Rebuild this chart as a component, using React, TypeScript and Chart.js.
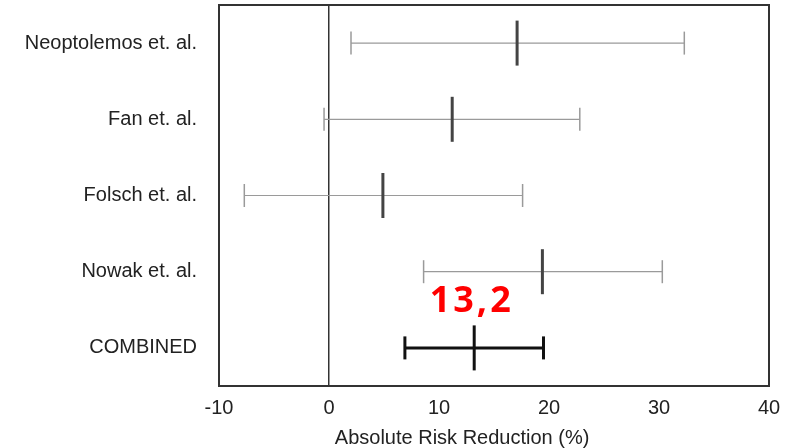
import React, { useEffect, useRef } from "react";
import { Chart, registerables } from "chart.js";

Chart.register(...registerables);

// ---- data ----
const studies = ["Neoptolemos et. al.", "Fan et. al.", "Folsch et. al.", "Nowak et. al.", "COMBINED"];
const lower = [2.0, -0.45, -7.7, 8.6, 6.9];
const estimate = [17.1, 11.2, 4.9, 19.4, 13.2];
const upper = [32.3, 22.8, 17.6, 30.3, 19.5];
const xMin = -10;
const xMax = 40;
const xStep = 10;
const xTitle = "Absolute Risk Reduction (%)";
const combinedLabel = "13,2";

const FONT = "'Liberation Sans', Arial, sans-serif";
const TEXT = "#222";

export default function App() {
  const ref = useRef<HTMLCanvasElement | null>(null);

  useEffect(() => {
    if (!ref.current) return;
    const last = studies.length - 1;

    const whiskers = studies.map((_, i) => {
      const combined = i === last;
      return {
        type: "scatter" as const,
        label: studies[i] + " CI",
        data: [
          { x: lower[i], y: i },
          { x: upper[i], y: i },
        ],
        showLine: true,
        borderColor: combined ? "#111" : "#9a9a9a",
        borderWidth: combined ? 3 : 1.2,
        pointStyle: "line" as const,
        pointRotation: 90,
        pointRadius: 11.5,
        pointHoverRadius: 11.5,
        pointBorderColor: combined ? "#111" : "#9a9a9a",
        pointBorderWidth: combined ? 3 : 1.5,
        order: 2,
      };
    });

    const points = {
      type: "scatter" as const,
      label: "Estimate",
      data: studies.map((_, i) => ({ x: estimate[i], y: i })),
      showLine: false,
      pointStyle: "line" as const,
      pointRotation: 90,
      pointRadius: 22.5,
      pointHoverRadius: 22.5,
      pointBorderColor: (c: any) => (c.dataIndex === last ? "#111" : "#444"),
      pointBorderWidth: 3,
      order: 1,
    };

    const boxPlugin = {
      id: "boxAndLabel",
      afterDraw(chart: any) {
        const { ctx, chartArea: a, scales } = chart;
        ctx.save();
        ctx.strokeStyle = "#333";
        ctx.lineWidth = 2;
        ctx.strokeRect(a.left, a.top, a.right - a.left, a.bottom - a.top);

        // x-axis title (sits left of the plot centre in the original)
        ctx.fillStyle = TEXT;
        ctx.font = `20px ${FONT}`;
        ctx.textAlign = "center";
        ctx.textBaseline = "middle";
        ctx.fillText(xTitle, a.left + (a.right - a.left) * 0.442, chart.height - 10);

        // red annotation for the combined estimate
        const x = scales.x.getPixelForValue(estimate[last]) - 4;
        const y = (scales.y.getPixelForValue(last - 1) + scales.y.getPixelForValue(last)) / 2 - 8;
        ctx.fillStyle = "#ff0000";
        ctx.font = "bold 36px 'Noto Sans', 'Open Sans', sans-serif";
        (ctx as any).letterSpacing = "3px";
        ctx.fillText(combinedLabel, x + 1.5, y);
        ctx.restore();
      },
    };

    const chart = new Chart(ref.current, {
      type: "scatter",
      data: { datasets: [...whiskers, points] as any },
      options: {
        animation: false,
        responsive: false,
        events: [],
        layout: { autoPadding: false, padding: { top: 5, right: 22, left: 0, bottom: 0 } },
        plugins: {
          legend: { display: false },
          tooltip: { enabled: false },
        },
        scales: {
          x: {
            type: "linear",
            min: xMin,
            max: xMax,
            border: { display: false },
            grid: {
              drawTicks: false,
              color: (c: any) => (c.tick && c.tick.value === 0 ? "#333" : "rgba(0,0,0,0)"),
              lineWidth: 1.5,
            },
            ticks: {
              stepSize: xStep,
              padding: 10,
              color: TEXT,
              font: { family: FONT, size: 20 },
            },
            title: { display: false },
            afterFit: (s: any) => {
              s.height = 62;
              s.paddingLeft = 0;
              s.paddingRight = 0;
            },
          },
          y: {
            type: "linear",
            min: -0.5,
            max: studies.length - 0.5,
            reverse: true,
            border: { display: false },
            grid: { display: false, drawTicks: false },
            afterBuildTicks: (s: any) => {
              s.ticks = studies.map((_, i) => ({ value: i }));
            },
            ticks: {
              padding: 22,
              color: TEXT,
              font: { family: FONT, size: 20 },
              callback: (v: any) => studies[Math.round(Number(v))] ?? "",
            },
            afterFit: (s: any) => {
              s.width = 219;
              s.paddingTop = 0;
              s.paddingBottom = 0;
            },
          },
        },
      },
      plugins: [boxPlugin],
    });

    return () => chart.destroy();
  }, []);

  return (
    <div style={{ position: "absolute", left: 0, top: 0, width: 791, height: 448, background: "#fff" }}>
      <canvas ref={ref} width={791} height={448} style={{ display: "block" }} />
    </div>
  );
}
